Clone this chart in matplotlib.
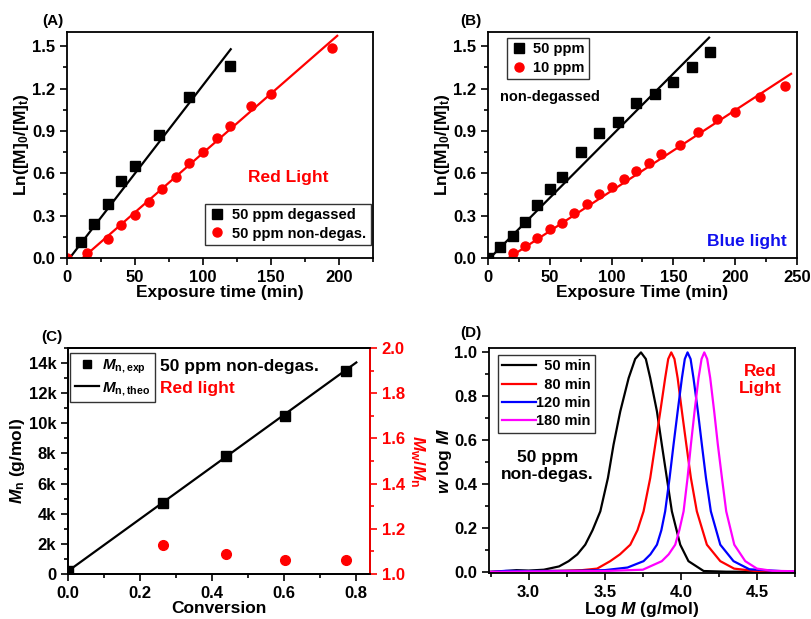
import numpy as np
import matplotlib
matplotlib.use("Agg")
import matplotlib.pyplot as plt
from matplotlib.ticker import MultipleLocator, FuncFormatter

# ===== data =====
# (A) red light, 50 ppm
a_deg_t = [10, 20, 30, 40, 50, 68, 90, 120]
a_deg_y = [0.112, 0.242, 0.38, 0.542, 0.654, 0.874, 1.139, 1.362]
a_non_t = [0, 15, 30, 40, 50, 60, 70, 80, 90, 100, 110, 120, 135, 150, 195]
a_non_y = [0.0, 0.038, 0.133, 0.232, 0.306, 0.396, 0.49, 0.576, 0.673, 0.751,
           0.85, 0.933, 1.073, 1.163, 1.49]
a_fit_deg_t = [2, 120.4]
a_fit_deg_y = [0.0, 1.478]
a_fit_non_t = [11.5, 198.7]
a_fit_non_y = [0.0, 1.573]

# (B) blue light, non-degassed
b_50_t = [0, 10, 20, 30, 40, 50, 60, 75, 90, 105, 120, 135, 150, 165, 180]
b_50_y = [0.0, 0.08, 0.158, 0.258, 0.376, 0.49, 0.57, 0.747, 0.882, 0.96,
          1.098, 1.162, 1.245, 1.351, 1.457]
b_10_t = [20, 30, 40, 50, 60, 70, 80, 90, 100, 110, 120, 130, 140, 155, 170,
          185, 200, 220, 240]
b_10_y = [0.033, 0.085, 0.14, 0.206, 0.25, 0.317, 0.381, 0.452, 0.506, 0.559,
          0.617, 0.674, 0.734, 0.80, 0.894, 0.985, 1.034, 1.143, 1.22]
b_fit_50_t = [1.6, 178.9]
b_fit_50_y = [0.0, 1.56]
b_fit_10_t = [16.6, 245.2]
b_fit_10_y = [0.0, 1.304]

# (C) Mn vs conversion, PDI on right axis
c_conv = [0.0, 0.264, 0.440, 0.603, 0.774]
c_mn = [190, 4720, 7860, 10460, 13490]
c_theo_conv = [0.0, 0.802]
c_theo_mn = [190, 14040]
c_pdi_conv = [0.264, 0.440, 0.603, 0.774]
c_pdi = [1.13, 1.09, 1.06, 1.06]

# (D) GPC traces (log M, normalised w)
d_50_x = [2.75, 2.85, 2.92, 3.0, 3.1, 3.2, 3.263, 3.32, 3.372, 3.42, 3.471,
          3.521, 3.558, 3.602, 3.657, 3.70, 3.738, 3.77, 3.799, 3.843, 3.875,
          3.908, 3.941, 3.996, 4.05, 4.15, 4.3, 4.75]
d_50_y = [0.0, 0.004, 0.008, 0.006, 0.01, 0.025, 0.049, 0.08, 0.124, 0.19,
          0.276, 0.428, 0.58, 0.731, 0.883, 0.97, 1.0, 0.97, 0.883, 0.731,
          0.58, 0.428, 0.276, 0.124, 0.049, 0.004, 0.001, 0.0]
d_80_x = [2.75, 3.0, 3.2, 3.35, 3.45, 3.536, 3.60, 3.668, 3.715, 3.755, 3.799,
          3.832, 3.865, 3.897, 3.917, 3.937, 3.958, 3.979, 4.007, 4.036, 4.066,
          4.105, 4.171, 4.259, 4.35, 4.5, 4.75]
d_80_y = [0.0, 0.003, 0.005, 0.008, 0.015, 0.049, 0.08, 0.124, 0.19, 0.276,
          0.428, 0.58, 0.731, 0.883, 0.97, 1.0, 0.97, 0.883, 0.731, 0.58,
          0.428, 0.276, 0.124, 0.049, 0.015, 0.003, 0.0]
d_120_x = [2.75, 2.85, 3.0, 3.3, 3.5, 3.65, 3.755, 3.80, 3.843, 3.872, 3.897,
           3.926, 3.952, 3.979, 4.007, 4.026, 4.044, 4.064, 4.083, 4.112,
           4.138, 4.165, 4.197, 4.259, 4.346, 4.45, 4.75]
d_120_y = [0.0, 0.005, 0.004, 0.005, 0.008, 0.02, 0.049, 0.08, 0.124, 0.19,
           0.276, 0.428, 0.58, 0.731, 0.883, 0.97, 1.0, 0.97, 0.883, 0.731,
           0.58, 0.428, 0.276, 0.124, 0.049, 0.012, 0.0]
d_180_x = [2.75, 3.0, 3.5, 3.75, 3.875, 3.92, 3.963, 3.99, 4.018, 4.044, 4.066,
           4.09, 4.116, 4.136, 4.154, 4.173, 4.193, 4.219, 4.243, 4.27, 4.298,
           4.351, 4.423, 4.5, 4.6, 4.75]
d_180_y = [0.0, 0.002, 0.004, 0.01, 0.049, 0.08, 0.124, 0.19, 0.276, 0.428,
           0.58, 0.731, 0.883, 0.97, 1.0, 0.97, 0.883, 0.731, 0.58, 0.428,
           0.276, 0.124, 0.049, 0.015, 0.005, 0.003]

# ===== style =====
plt.rcParams["font.family"] = ["Liberation Sans", "DejaVu Sans"]
plt.rcParams["font.weight"] = "bold"
plt.rcParams["axes.labelweight"] = "bold"
plt.rcParams["mathtext.fontset"] = "custom"
plt.rcParams["mathtext.rm"] = "Liberation Sans"
plt.rcParams["mathtext.bf"] = "Liberation Sans:bold"
plt.rcParams["mathtext.it"] = "Liberation Sans:italic:bold"
plt.rcParams["axes.linewidth"] = 1.3

RED = "#ff0000"
TICK_FS = 12
LABEL_FS = 12.5


def style_axis(ax, xmaj, xmin, ymaj, ymin):
    ax.xaxis.set_major_locator(MultipleLocator(xmaj))
    ax.xaxis.set_minor_locator(MultipleLocator(xmin))
    ax.yaxis.set_major_locator(MultipleLocator(ymaj))
    ax.yaxis.set_minor_locator(MultipleLocator(ymin))
    ax.tick_params(which="both", direction="out", top=False, right=False,
                   labelsize=TICK_FS, width=1.2)
    ax.tick_params(which="major", length=5)
    ax.tick_params(which="minor", length=3)
    for lab in ax.get_xticklabels() + ax.get_yticklabels():
        lab.set_fontweight("bold")


def boxed_legend(ax, **kw):
    leg = ax.legend(frameon=True, fancybox=False, edgecolor="black",
                    borderaxespad=0.0, **kw)
    leg.get_frame().set_linewidth(1.0)
    return leg


fig = plt.figure(figsize=(8.11, 6.19), dpi=100)
axA = fig.add_axes([0.0826, 0.5832, 0.3773, 0.3651])
axB = fig.add_axes([0.6017, 0.5832, 0.3810, 0.3651])
axC = fig.add_axes([0.0838, 0.0727, 0.3724, 0.3651])
axD = fig.add_axes([0.6030, 0.0743, 0.3773, 0.3635])

ylab_ln = r"Ln([M]$_\mathbf{0}$/[M]$_\mathbf{t}$)"

# ---- (A) ----
axA.plot(a_fit_deg_t, a_fit_deg_y, color="black", lw=1.6)
axA.plot(a_fit_non_t, a_fit_non_y, color=RED, lw=1.6)
axA.plot(a_deg_t, a_deg_y, "s", color="black", ms=6.5, label="50 ppm degassed")
axA.plot(a_non_t, a_non_y, "o", color=RED, ms=6.5, label="50 ppm non-degas.")
axA.set_xlim(0, 225)
axA.set_ylim(0, 1.6)
style_axis(axA, 50, 25, 0.3, 0.15)
axA.set_xlabel("Exposure time (min)", fontsize=LABEL_FS, labelpad=0)
axA.set_ylabel(ylab_ln, fontsize=LABEL_FS, labelpad=1)
boxed_legend(axA, loc="lower right", bbox_to_anchor=(0.993, 0.058),
             fontsize=10.5, handletextpad=0.5, borderpad=0.3,
             labelspacing=0.3, handlelength=1.1)
axA.text(0.722, 0.358, "Red Light", transform=axA.transAxes, color=RED,
         fontsize=12.5, fontweight="bold", ha="center", va="center")

# ---- (B) ----
axB.plot(b_fit_50_t, b_fit_50_y, color="black", lw=1.6)
axB.plot(b_fit_10_t, b_fit_10_y, color=RED, lw=1.6)
axB.plot(b_50_t, b_50_y, "s", color="black", ms=6.5, label="50 ppm")
axB.plot(b_10_t, b_10_y, "o", color=RED, ms=6.5, label="10 ppm")
axB.set_xlim(0, 250)
axB.set_ylim(0, 1.6)
style_axis(axB, 50, 25, 0.3, 0.15)
axB.set_xlabel("Exposure Time (min)", fontsize=LABEL_FS, labelpad=0)
axB.set_ylabel(ylab_ln, fontsize=LABEL_FS, labelpad=1)
boxed_legend(axB, loc="upper left", bbox_to_anchor=(0.0615, 0.973),
             fontsize=10.5, handletextpad=0.5, borderpad=0.3,
             labelspacing=0.3, handlelength=1.0)
axB.text(0.20, 0.712, "non-degassed", transform=axB.transAxes, color="black",
         fontsize=10.5, fontweight="bold", ha="center", va="center")
axB.text(0.838, 0.075, "Blue light", transform=axB.transAxes, color="#1010ee",
         fontsize=12.5, fontweight="bold", ha="center", va="center")

# ---- (C) ----
axC.plot(c_theo_conv, c_theo_mn, color="black", lw=1.6,
         label=r"$\mathit{M}_\mathrm{n,theo}$")
axC.plot(c_conv, c_mn, "s", color="black", ms=7.5,
         label=r"$\mathit{M}_\mathrm{n,exp}$")
axC.set_xlim(0, 0.84)
axC.set_ylim(0, 15000)
style_axis(axC, 0.2, 0.1, 2000, 1000)
axC.yaxis.set_major_formatter(
    FuncFormatter(lambda v, p: "0" if v == 0 else f"{int(v / 1000)}k"))
axC.set_xlabel("Conversion", fontsize=LABEL_FS, labelpad=0)
axC.set_ylabel(r"$\mathit{M}_\mathrm{n}$ (g/mol)", fontsize=LABEL_FS, labelpad=1)
handles, labels = axC.get_legend_handles_labels()
boxed_legend(axC, handles=handles[::-1], labels=labels[::-1], loc="upper left",
             bbox_to_anchor=(0.008, 0.978), fontsize=11, handletextpad=0.2,
             borderpad=0.3, labelspacing=0.3, handlelength=1.6,
             markerscale=0.75)
axC.text(0.305, 0.916, "50 ppm non-degas.", transform=axC.transAxes,
         color="black", fontsize=12.5, fontweight="bold", ha="left", va="center")
axC.text(0.305, 0.819, "Red light", transform=axC.transAxes, color=RED,
         fontsize=12.5, fontweight="bold", ha="left", va="center")

axC2 = axC.twinx()
axC2.plot(c_pdi_conv, c_pdi, "o", color=RED, ms=7)
axC2.set_ylim(1.0, 2.0)
axC2.yaxis.set_major_locator(MultipleLocator(0.2))
axC2.yaxis.set_minor_locator(MultipleLocator(0.1))
axC2.tick_params(which="both", direction="out", colors=RED, labelsize=TICK_FS,
                 width=1.2)
axC2.tick_params(which="major", length=5)
axC2.tick_params(which="minor", length=3)
for lab in axC2.get_yticklabels():
    lab.set_fontweight("bold")
axC2.spines["right"].set_color(RED)
axC2.spines["right"].set_linewidth(1.3)
axC2.set_ylabel(r"$\mathit{M}_\mathrm{w}$/$\mathit{M}_\mathrm{n}$", color=RED,
                fontsize=LABEL_FS, rotation=270, labelpad=16)

# ---- (D) ----
axD.plot(d_50_x, d_50_y, color="black", lw=1.6, label="  50 min")
axD.plot(d_80_x, d_80_y, color=RED, lw=1.6, label="  80 min")
axD.plot(d_120_x, d_120_y, color="#0000ff", lw=1.6, label="120 min")
axD.plot(d_180_x, d_180_y, color="#ff00ff", lw=1.6, label="180 min")
axD.set_xlim(2.74, 4.75)
axD.set_ylim(-0.005, 1.02)
style_axis(axD, 0.5, 0.25, 0.2, 0.1)
axD.set_xlabel(r"Log $\mathit{M}$ (g/mol)", fontsize=LABEL_FS, labelpad=0)
axD.set_ylabel(r"$\mathit{w}$ log $\mathit{M}$", fontsize=LABEL_FS, labelpad=0)
boxed_legend(axD, loc="upper left", bbox_to_anchor=(0.029, 0.969),
             fontsize=10.5, handletextpad=0.0, borderpad=0.3,
             labelspacing=0.3, handlelength=2.3)
axD.text(0.886, 0.858, "Red\nLight", transform=axD.transAxes, color=RED,
         fontsize=12.5, fontweight="bold", ha="center", va="center",
         linespacing=1.1)
axD.text(0.19, 0.476, "50 ppm\nnon-degas.", transform=axD.transAxes,
         color="black", fontsize=12.5, fontweight="bold", ha="center",
         va="center", linespacing=1.1)

# panel letters
for lbl, x, y in [("(A)", 0.065, 0.966), ("(B)", 0.581, 0.966),
                  ("(C)", 0.064, 0.456), ("(D)", 0.581, 0.462)]:
    fig.text(x, y, lbl, fontsize=11, fontweight="bold", ha="center",
             va="center")

fig.savefig("out.png", dpi=100)
